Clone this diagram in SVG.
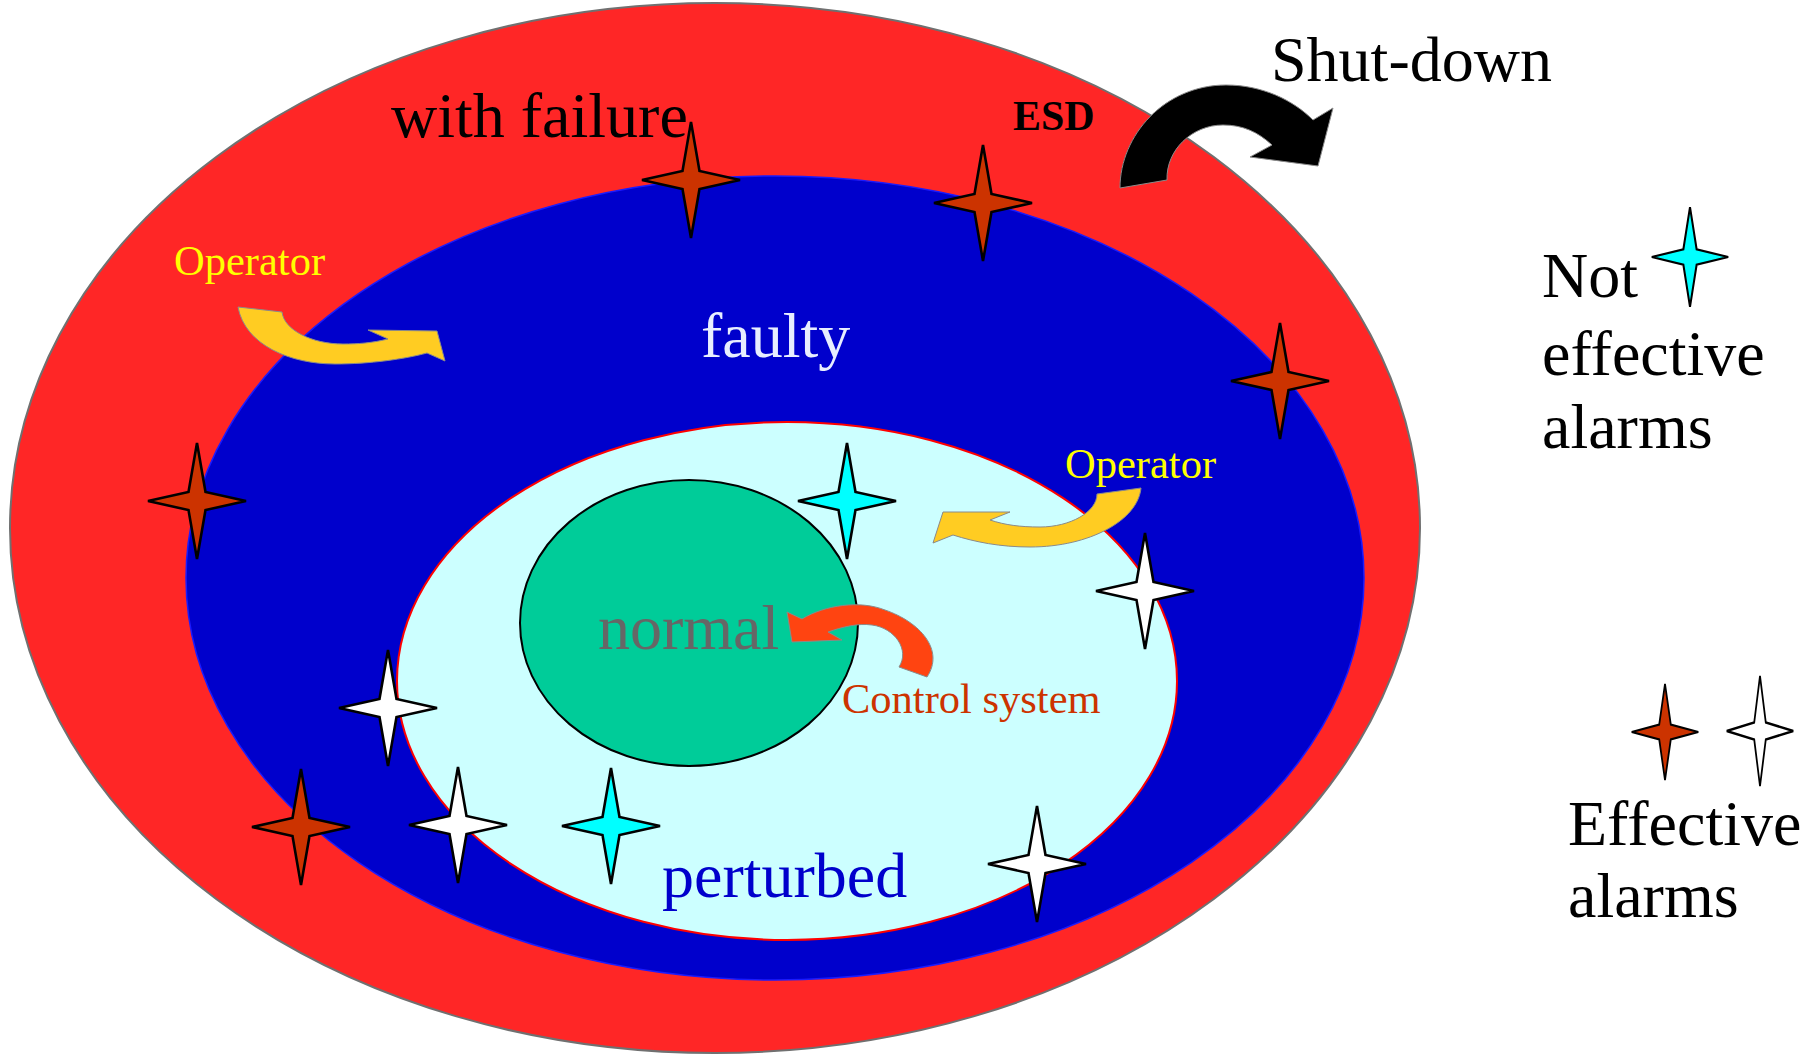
<svg xmlns="http://www.w3.org/2000/svg" xmlns:xlink="http://www.w3.org/1999/xlink" width="1815" height="1055" viewBox="0 0 1815 1055">
  <style>
    .t { font-family: "Liberation Serif", "Times New Roman", serif; }
    .big { font-size: 64px; }
    .small { font-size: 42.5px; }
    .alarm { stroke: #000; stroke-width: 2.6; stroke-linejoin: miter; }
    .eff { fill: #CC3300; }
    .noteff { fill: #00FFFF; }
    .plain { fill: #FFFFFF; }
    .arrow { stroke: #8a8a8a; stroke-width: 1; }
  </style>
  <defs>
    <!-- four-pointed alarm star, centred on the origin -->
    <path id="star" d="M0 -58 L8.5 -9 L49 0 L8.5 9 L0 58 L-8.5 9 L-49 0 L-8.5 -9 Z"/>
  </defs>

  <rect width="1815" height="1055" fill="#FFFFFF"/>

  <!-- nested operating regions -->
  <g id="with-failure">
    <ellipse cx="715" cy="528" rx="705" ry="525" fill="#FF2626" stroke="#707070" stroke-width="2"/>
    <text class="t big" x="391" y="137" fill="#000">with failure</text>
  </g>
  <g id="faulty">
    <ellipse cx="775" cy="578" rx="589" ry="402" fill="#0000CC" stroke="#1a1aff" stroke-width="1.5"/>
    <text class="t big" x="701" y="357" fill="#E8EEFF">faulty</text>
  </g>
  <g id="perturbed">
    <ellipse cx="787" cy="681" rx="390" ry="259" fill="#CCFFFF" stroke="#FF0000" stroke-width="2"/>
    <text class="t big" x="662" y="897" fill="#0000CC">perturbed</text>
  </g>
  <g id="normal">
    <ellipse cx="689" cy="623" rx="169" ry="143" fill="#00CC99" stroke="#000" stroke-width="2"/>
    <text class="t big" x="598" y="649" fill="#666666">normal</text>
  </g>

  <!-- transitions between regions -->
  <g id="connectors">
    <path id="shutdown-arrow" class="arrow" fill="#000" d="M1120 188 C1120 135 1165 85 1226 85 C1262 85 1293 100 1313 120 L1333 108 L1318 166 L1250 157 L1272 145 C1258 132 1243 125 1223 125 C1192 125 1166 150 1167 180 Z"/>
    <path id="operator-arrow-1" class="arrow" fill="#FFCC22" d="M238 307 C245 345 290 364 335 364 C370 364 405 359 427 353 L445 361 L437 331 L368 330 L388 339 C372 343 358 344 343 344 C312 344 284 330 282 312 Z"/>
    <path id="operator-arrow-2" class="arrow" fill="#FFCC22" d="M1141 488 C1138 520 1090 547 1030 547 C1000 547 975 542 953 535 L933 543 L943 512 L1010 512 L990 520 C1005 525 1020 527 1040 527 C1070 527 1097 512 1097 494 Z"/>
    <path id="control-arrow" class="arrow" fill="#FF4411" d="M802 619 C825 605 860 600 885 610 C920 622 945 650 927 677 L899 667 C910 650 895 628 872 625 C858 623 842 627 828 632 L842 640 L792 642 L787 612 Z"/>
  </g>

  <!-- arrow labels -->
  <g id="labels">
    <text class="t" x="1013" y="130" font-size="42" font-weight="bold" fill="#000">ESD</text>
    <text class="t big" x="1271" y="81" fill="#000">Shut-down</text>
    <text class="t small" x="174" y="275" fill="#FFFF00">Operator</text>
    <text class="t small" x="1065" y="478" fill="#FFFF00">Operator</text>
    <text class="t small" x="842" y="713" fill="#CC3300">Control system</text>
  </g>

  <!-- alarms placed in the regions -->
  <g id="alarms">
    <use xlink:href="#star" class="alarm eff" x="691" y="180"/>
    <use xlink:href="#star" class="alarm eff" x="983" y="203"/>
    <use xlink:href="#star" class="alarm eff" x="1280" y="381"/>
    <use xlink:href="#star" class="alarm eff" x="197" y="501"/>
    <use xlink:href="#star" class="alarm eff" x="301" y="827"/>
    <use xlink:href="#star" class="alarm noteff" x="847" y="501"/>
    <use xlink:href="#star" class="alarm noteff" x="611" y="826"/>
    <use xlink:href="#star" class="alarm plain" x="1145" y="591"/>
    <use xlink:href="#star" class="alarm plain" x="388" y="708"/>
    <use xlink:href="#star" class="alarm plain" x="458" y="825"/>
    <use xlink:href="#star" class="alarm plain" x="1037" y="864"/>
  </g>

  <!-- legend -->
  <g id="legend-not-effective">
    <use xlink:href="#star" class="alarm noteff" transform="translate(1690 257) scale(0.78 0.86)"/>
    <text class="t big" fill="#000">
      <tspan x="1542" y="297">Not</tspan>
      <tspan x="1542" y="375">effective</tspan>
      <tspan x="1542" y="448">alarms</tspan>
    </text>
  </g>
  <g id="legend-effective">
    <use xlink:href="#star" class="alarm eff" transform="translate(1665 732) scale(0.68 0.83)"/>
    <use xlink:href="#star" class="alarm plain" transform="translate(1760 731) scale(0.68 0.95)"/>
    <text class="t big" fill="#000">
      <tspan x="1568" y="845">Effective</tspan>
      <tspan x="1568" y="917">alarms</tspan>
    </text>
  </g>
</svg>
